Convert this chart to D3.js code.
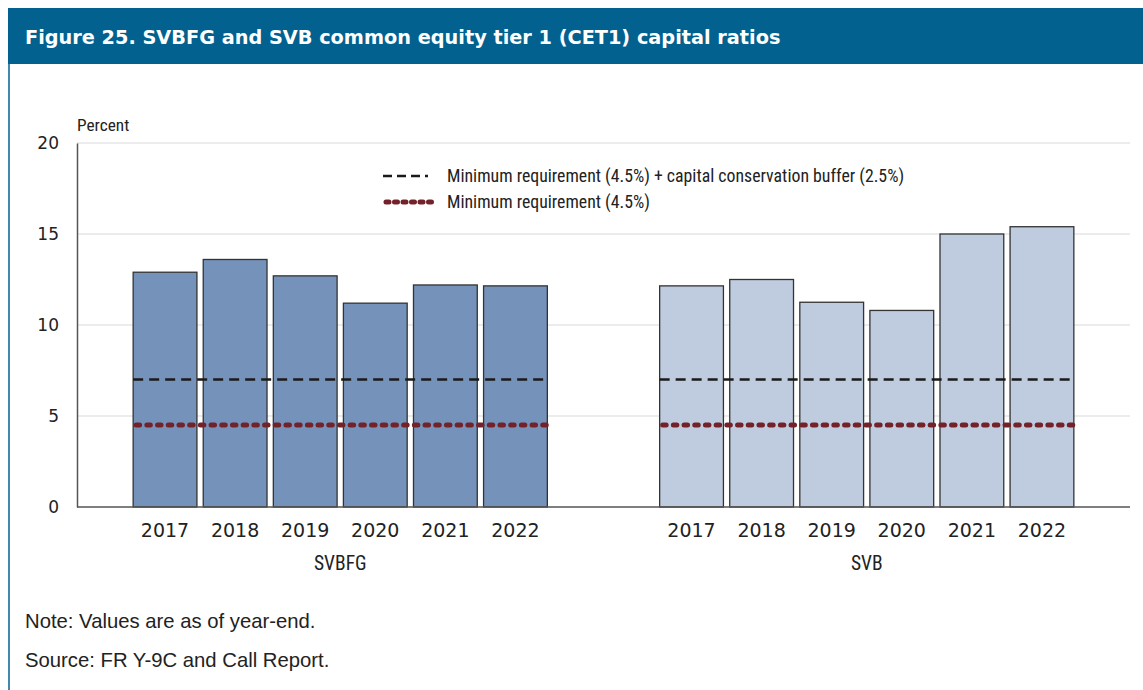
<!DOCTYPE html>
<html>
<head>
<meta charset="utf-8">
<script src="https://cdn.jsdelivr.net/npm/d3@7"></script>
<style>
  body { margin: 0; background: #fff; }
  svg { display: block; }
</style>
</head>
<body>
<div id="grafico"></div>
<script>
// ==============================
// DATOS
// ==============================
const grupos = ["SVBFG", "SVB"];
const anios = ["2017", "2018", "2019", "2020", "2021", "2022"];
const valoresSVBFG = [12.9, 13.6, 12.7, 11.2, 12.2, 12.15];
const valoresSVB = [12.15, 12.5, 11.25, 10.8, 15.0, 15.4];
const ticksY = [0, 5, 10, 15, 20];
const minimoMasColchon = 7.0;
const minimo = 4.5;
const etiquetasLeyenda = [
  "Minimum requirement (4.5%) + capital conservation buffer (2.5%)",
  "Minimum requirement (4.5%)"
];

const W = 1143, H = 690;
const margen = { left: 77, right: 1130, top: 143, bottom: 507 };
const fuenteCondensada = "'Liberation Sans Narrow', 'Roboto Condensed', 'Arial Narrow', sans-serif";
const fuenteNumeros = "'DejaVu Sans', sans-serif";

const svg = d3.select("#grafico").append("svg")
  .attr("width", W).attr("height", H);

// Barra de título
svg.append("rect")
  .attr("x", 8).attr("y", 8).attr("width", W - 8).attr("height", 56)
  .attr("fill", "#02618f");
svg.append("text")
  .attr("x", 25).attr("y", 44)
  .attr("fill", "#fff")
  .attr("font-family", "'DejaVu Sans', sans-serif")
  .attr("font-weight", "bold")
  .attr("font-size", 19.3)
  .text("Figure 25. SVBFG and SVB common equity tier 1 (CET1) capital ratios");

// Borde izquierdo
svg.append("line")
  .attr("x1", 9).attr("x2", 9).attr("y1", 64).attr("y2", H)
  .attr("stroke", "#02618f").attr("stroke-width", 1.5);

// ==============================
// ESCALAS
// ==============================
const y = d3.scaleLinear().domain([0, 20]).range([margen.bottom, margen.top]);

const xGrupo = d3.scaleBand()
  .domain(grupos)
  .range([margen.left, margen.right])
  .paddingInner(0.2)
  .paddingOuter(0.1);

const xAnio = d3.scaleBand()
  .domain(anios)
  .range([0, xGrupo.bandwidth()])
  .paddingInner(0.09)
  .paddingOuter(0.05);

// Cuadrícula
svg.append("g")
  .selectAll("line")
  .data(ticksY.filter(d => d > 0))
  .join("line")
  .attr("x1", margen.left).attr("x2", margen.right)
  .attr("y1", d => y(d)).attr("y2", d => y(d))
  .attr("stroke", "#d9d9d9").attr("stroke-width", 1.2);

// Eje Y
const ejeY = svg.append("g")
  .attr("transform", `translate(${margen.left},0)`)
  .call(d3.axisLeft(y).tickValues(ticksY).tickSize(0).tickPadding(18));
ejeY.select(".domain").attr("stroke", "#555").attr("stroke-width", 1.5);
ejeY.selectAll("text")
  .attr("font-family", fuenteNumeros)
  .attr("font-size", 17)
  .attr("fill", "#222");

svg.append("text")
  .attr("x", margen.left).attr("y", 131)
  .attr("font-family", fuenteCondensada)
  .attr("font-size", 17.3)
  .attr("fill", "#222")
  .text("Percent");

// ==============================
// BARRAS
// ==============================
const datos = [
  { grupo: "SVBFG", valores: valoresSVBFG, color: "#7593ba" },
  { grupo: "SVB", valores: valoresSVB, color: "#bfccdf" }
];

datos.forEach(serie => {
  const g = svg.append("g")
    .attr("transform", `translate(${xGrupo(serie.grupo)},0)`);

  g.selectAll("rect")
    .data(serie.valores)
    .join("rect")
    .attr("x", (d, i) => xAnio(anios[i]))
    .attr("y", d => y(d))
    .attr("width", xAnio.bandwidth())
    .attr("height", d => y(0) - y(d))
    .attr("fill", serie.color)
    .attr("stroke", "#333")
    .attr("stroke-width", 1.3);

  const x0 = xAnio(anios[0]);
  const x1 = xAnio(anios[anios.length - 1]) + xAnio.bandwidth();

  g.append("line")
    .attr("x1", x0).attr("x2", x1)
    .attr("y1", y(minimoMasColchon)).attr("y2", y(minimoMasColchon))
    .attr("stroke", "#1a1a1a").attr("stroke-width", 2.5)
    .attr("stroke-dasharray", "10 6");

  g.append("line")
    .attr("x1", x0 + 3).attr("x2", x1)
    .attr("y1", y(minimo)).attr("y2", y(minimo))
    .attr("stroke", "#742229").attr("stroke-width", 5)
    .attr("stroke-linecap", "round")
    .attr("stroke-dasharray", "3.5 7.2");

  g.selectAll("text.anio")
    .data(anios)
    .join("text")
    .attr("class", "anio")
    .attr("x", d => xAnio(d) + xAnio.bandwidth() / 2)
    .attr("y", 537)
    .attr("text-anchor", "middle")
    .attr("font-family", fuenteNumeros)
    .attr("font-size", 19)
    .attr("fill", "#222")
    .text(d => d);

  g.append("text")
    .attr("x", xGrupo.bandwidth() / 2)
    .attr("y", 570)
    .attr("text-anchor", "middle")
    .attr("font-family", fuenteCondensada)
    .attr("font-size", 19.5)
    .attr("fill", "#222")
    .text(serie.grupo);
});

// Eje X (línea base)
svg.append("line")
  .attr("x1", margen.left).attr("x2", margen.right)
  .attr("y1", y(0)).attr("y2", y(0))
  .attr("stroke", "#555").attr("stroke-width", 1.5);

// ==============================
// LEYENDA
// ==============================
const leyenda = svg.append("g");
leyenda.append("line")
  .attr("x1", 383).attr("x2", 428).attr("y1", 176).attr("y2", 176)
  .attr("stroke", "#1a1a1a").attr("stroke-width", 2.5)
  .attr("stroke-dasharray", "9 5");
leyenda.append("line")
  .attr("x1", 386).attr("x2", 436).attr("y1", 202).attr("y2", 202)
  .attr("stroke", "#742229").attr("stroke-width", 5)
  .attr("stroke-linecap", "round")
  .attr("stroke-dasharray", "3 5.5");

leyenda.selectAll("text")
  .data(etiquetasLeyenda)
  .join("text")
  .attr("x", 447)
  .attr("y", (d, i) => 182 + i * 26)
  .attr("font-family", fuenteCondensada)
  .attr("font-size", 17.8)
  .attr("fill", "#222")
  .text(d => d);

// ==============================
// NOTAS
// ==============================
svg.append("text")
  .attr("x", 25).attr("y", 628)
  .attr("font-family", "'Liberation Sans', Arial, sans-serif")
  .attr("font-size", 20.3)
  .attr("fill", "#222")
  .text("Note: Values are as of year-end.");
svg.append("text")
  .attr("x", 25).attr("y", 667)
  .attr("font-family", "'Liberation Sans', Arial, sans-serif")
  .attr("font-size", 20.3)
  .attr("fill", "#222")
  .text("Source: FR Y-9C and Call Report.");
</script>
</body>
</html>
